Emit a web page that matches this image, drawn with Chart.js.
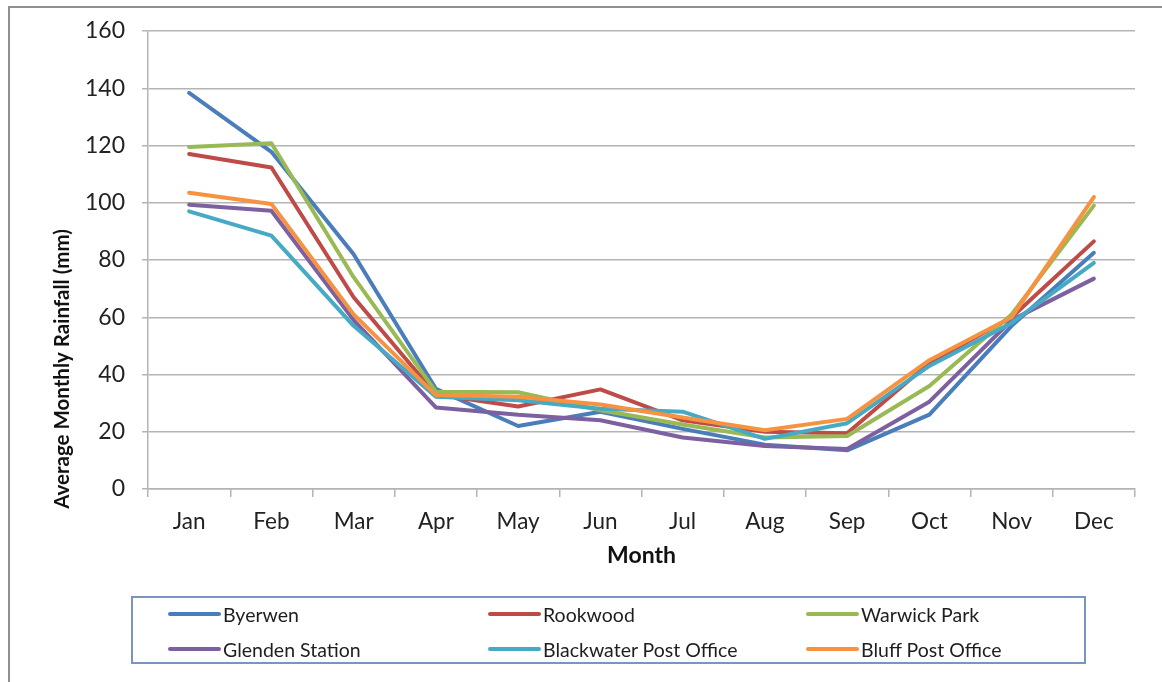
<!DOCTYPE html>
<html>
<head>
<meta charset="utf-8">
<script src="https://cdn.jsdelivr.net/npm/chart.js@4/dist/chart.umd.min.js"></script>
<style>
  html, body { margin: 0; padding: 0; background: #fff; }
  body { width: 1162px; height: 682px; position: relative; overflow: hidden; font-family: Lato, "Open Sans", sans-serif; }
  #frame { position: absolute; left: 8px; top: 6px; width: 1400px; height: 900px; border: 2px solid #8f8f8f; }
  #chart { position: absolute; left: 0; top: 0; }
  #legend { position: absolute; left: 131px; top: 596px; width: 955px; height: 68px; border: 2px solid #7b95c2; box-sizing: border-box; }
  .item { position: absolute; height: 24px; display: flex; align-items: center; font-size: 19.5px; color: #1e1e1e; white-space: nowrap; }
  .swatch { width: 53px; height: 4px; border-radius: 2px; margin-right: 2px; }
</style>
</head>
<body>
<div id="frame"></div>
<canvas id="chart" width="1162" height="682"></canvas>
<div id="legend"></div>
<script>
// Months along the x axis
const months = ['Jan', 'Feb', 'Mar', 'Apr', 'May', 'Jun', 'Jul', 'Aug', 'Sep', 'Oct', 'Nov', 'Dec'];

// Average monthly rainfall (mm) per station
const byerwen        = [138.4, 117.8, 82.0, 35.0, 22.0, 27.0, 21.0, 15.5, 13.5, 26.0, 57.0, 82.5];
const rookwood       = [117.0, 112.3, 67.0, 33.0, 28.8, 34.8, 24.0, 20.0, 19.5, 44.0, 60.0, 86.5];
const warwickPark    = [119.5, 120.8, 74.0, 34.0, 33.8, 27.5, 22.5, 18.0, 18.5, 36.0, 61.0, 99.0];
const glendenStation = [ 99.3,  97.2, 59.0, 28.5, 25.9, 24.0, 18.0, 15.0, 14.0, 30.5, 59.0, 73.5];
const blackwaterPO   = [ 97.0,  88.5, 57.0, 32.2, 31.0, 28.0, 27.0, 17.5, 23.0, 43.0, 58.0, 79.0];
const bluffPO        = [103.5,  99.6, 61.0, 32.8, 32.2, 29.5, 25.0, 20.5, 24.5, 45.0, 60.0, 102.0];

const stationNames  = ['Byerwen', 'Rookwood', 'Warwick Park', 'Glenden Station', 'Blackwater Post Office', 'Bluff Post Office'];
const stationSeries = [byerwen, rookwood, warwickPark, glendenStation, blackwaterPO, bluffPO];
const stationColors = ['#4a7ebb', '#be4b48', '#98b954', '#7d60a0', '#46aac5', '#f69240'];

// Y axis range and tick step
const yMin = 0, yMax = 160, yStep = 20;

const axisTitleY = 'Average Monthly Rainfall (mm)';
const axisTitleX = 'Month';

const FONT = 'Lato, "Open Sans", sans-serif';
const gridColor = '#b4b4b4';

const datasets = stationSeries.map((values, i) => ({
  label: stationNames[i],
  data: values,
  borderColor: stationColors[i],
  backgroundColor: stationColors[i],
  borderWidth: 4,
  pointRadius: 0,
  pointHoverRadius: 0,
  tension: 0,
  fill: false,
  borderCapStyle: 'round',
  borderJoinStyle: 'round',
  order: stationSeries.length - i   // later series drawn on top
}));

// Rotated title for the value axis
const yTitlePlugin = {
  id: 'yTitle',
  afterDraw(chart) {
    const ctx = chart.ctx;
    ctx.save();
    ctx.translate(62, 369);
    ctx.rotate(-Math.PI / 2);
    ctx.font = 'bold 20.5px ' + FONT;
    ctx.fillStyle = '#111';
    ctx.textAlign = 'center';
    ctx.textBaseline = 'middle';
    ctx.fillText(axisTitleY, 0, 0);
    ctx.restore();
  }
};

const chart = new Chart(document.getElementById('chart'), {
  type: 'line',
  data: { labels: months, datasets },
  plugins: [yTitlePlugin],
  options: {
    responsive: false,
    animation: false,
    devicePixelRatio: 1,
    layout: { padding: { left: 0, top: 31, right: 27, bottom: 0 } },
    plugins: { legend: { display: false }, tooltip: { enabled: false } },
    scales: {
      x: {
        offset: true,
        afterFit(scale) { scale.height = 193; },
        grid: { display: true, offset: true, drawOnChartArea: false, drawTicks: true, tickLength: 8, color: gridColor, lineWidth: 1.5 },
        border: { display: true, color: gridColor, width: 1.5 },
        ticks: { color: '#222', font: { family: FONT, size: 22.5 }, padding: 11, maxRotation: 0, autoSkip: false },
        title: { display: true, text: axisTitleX, color: '#111', font: { family: FONT, size: 23, weight: 'bold' }, padding: { top: 0, bottom: 113 } }
      },
      y: {
        min: yMin,
        max: yMax,
        afterFit(scale) { scale.width = 148; },
        grid: { color: gridColor, lineWidth: 1.5, drawTicks: true, tickLength: 6 },
        border: { display: true, color: gridColor, width: 1.5 },
        ticks: { stepSize: yStep, color: '#222', font: { family: FONT, size: 23 }, padding: 17 }
      }
    }
  }
});

// Boxed legend in three columns, built from the datasets
const legend = document.getElementById('legend');
const colX = [35, 355, 673];
const rowY = [4, 39];
chart.data.datasets.forEach((ds, i) => {
  const item = document.createElement('div');
  item.className = 'item';
  item.style.left = colX[i % 3] + 'px';
  item.style.top = rowY[Math.floor(i / 3)] + 'px';
  const sw = document.createElement('span');
  sw.className = 'swatch';
  sw.style.background = ds.borderColor;
  const tx = document.createElement('span');
  tx.textContent = ds.label;
  item.appendChild(sw);
  item.appendChild(tx);
  legend.appendChild(item);
});
</script>
</body>
</html>
